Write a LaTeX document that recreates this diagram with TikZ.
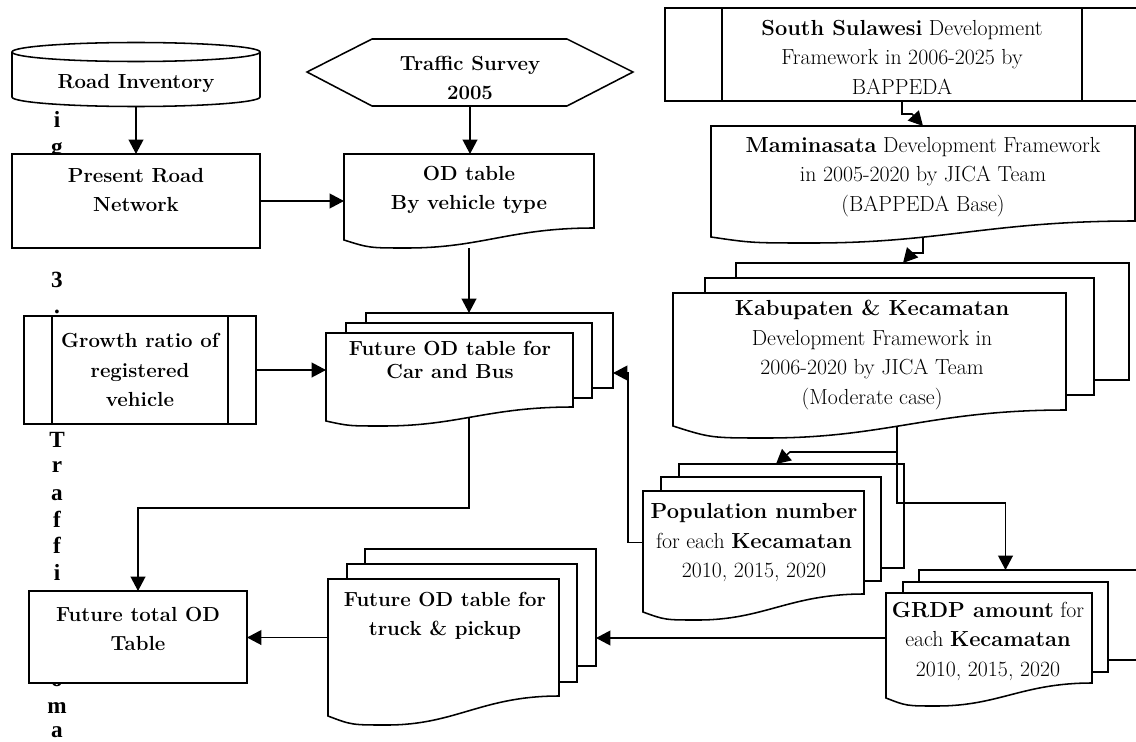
\documentclass[tikz,border=0pt]{standalone}
\usepackage{fontspec}
\newfontfamily\capfont{Liberation Serif}
\usetikzlibrary{arrows.meta}
\newcommand{\pxw}{0.025cm}
\pgfdeclarelayer{back}
\pgfsetlayers{back,main}
\tikzset{
  shp/.style={draw, fill=white, line width=1.1pt},
  boxsize/.style 2 args={minimum width=#1*\pxw, minimum height=#2*\pxw, inner sep=0pt, outer sep=0pt},
  lbl/.style={align=center, font=\fontsize{14.5}{21}\selectfont\bfseries},
  txt/.style={align=center, font=\fontsize{15.5}{21}\selectfont},
  arr/.style={line width=1.1pt, -{Triangle[length=0.36cm, width=0.37cm]}},
  vlet/.style={anchor=base, inner sep=0pt, font=\capfont\bfseries\fontsize{16.5}{18}\selectfont}
}
% document sheet: x1, top, x2, right bottom, left bottom, dip x, dip y
\newcommand{\docshape}[7]{%
  \draw[shp] (#1,#2) -- (#3,#2) -- (#3,#4)
    .. controls ({#3-0.45*(#3-#6)},#4) and ({#6+0.4*(#3-#6)},#7) .. (#6,#7)
    .. controls ({#6-0.6*(#6-#1)},#7) .. (#1,#5) -- cycle;}
\begin{document}
\begin{tikzpicture}[x=0.025cm, y=-0.025cm]
\useasboundingbox (0,0) rectangle (1136,742);

% left column
\node[boxsize={248}{63}] (inv) at (136,74.5) {};
\draw[shp] (12,52) -- (12,97) arc[start angle=180, end angle=360, x radius=124*\pxw, y radius=9.5*\pxw]
  -- (260,52) arc[start angle=0, end angle=180, x radius=124*\pxw, y radius=9.5*\pxw] -- cycle;
\draw[line width=1.1pt] (12,52) arc[start angle=180, end angle=360, x radius=124*\pxw, y radius=9.5*\pxw];
\node[lbl] at (136,83) {Road Inventory};

\node[shp, boxsize={248}{94}] (pnet) at (136,201) {};
\node[lbl] at (136,190) {Present Road\\Network};

\node[shp, boxsize={232}{108}] (growth) at (140,370) {};
\draw[line width=1.1pt] (52,316) -- (52,424) (228,316) -- (228,424);
\node[lbl] at (140,370) {Growth ratio of\\registered\\vehicle};

\node[shp, boxsize={218}{92}] (ftot) at (138,637) {};
\node[lbl] at (138,629) {Future total OD\\Table};

% middle column
\node[boxsize={326}{67}] (survey) at (470,72.5) {};
\draw[shp] (307,72) -- (372,39) -- (567,39) -- (633,72) -- (567,106) -- (372,106) -- cycle;
\node[lbl] at (470,78) {Traffic Survey\\2005};

\node[boxsize={250}{94}] (odt) at (469,201) {};
\docshape{344}{154}{594}{228}{240}{407}{248}
\node[lbl] at (469,190) {OD table\\By vehicle type};

\node[shp, boxsize={247}{75}] (fcb3) at (489.5,350.5) {};
\node[shp, boxsize={246}{75}] (fcb2) at (469,360.5) {};
\node[boxsize={247}{74}] (fcb) at (449.5,370) {};
\docshape{326}{333}{573}{407}{421}{383}{426}
\node[lbl, font=\fontsize{14.5}{16.5}\selectfont\bfseries] at (450,360) {Future OD table for\\Car and Bus};

\node[shp, boxsize={231}{117}] (ftr3) at (480.5,607.5) {};
\node[shp, boxsize={230}{118}] (ftr2) at (462,623) {};
\node[boxsize={231}{117}] (ftr) at (443.5,637.5) {};
\docshape{328}{579}{559}{696}{716}{387}{725}
\node[lbl] at (445,616) {Future OD table for\\truck \& pickup};

% right column
\node[shp, boxsize={474}{93}] (ss) at (902,54.5) {};
\draw[line width=1.1pt] (722,8) -- (722,101) (1082,8) -- (1082,101);
\node[txt] at (902,57) {\textbf{South Sulawesi} Development\\Framework in 2006-2025 by\\BAPPEDA};

\node[boxsize={424}{111}] (mam) at (923,181.5) {};
\docshape{711}{126}{1135}{221}{237}{813}{243}
\node[txt] at (923,177) {\textbf{Maminasata} Development Framework\\in 2005-2020 by JICA Team\\(BAPPEDA Base)};

\node[shp, boxsize={393}{117}] (kab3) at (932.5,321.5) {};
\node[shp, boxsize={389}{117}] (kab2) at (899.5,336.5) {};
\node[boxsize={393}{117}] (kab) at (869.5,351.5) {};
\docshape{673}{293}{1066}{410}{426}{767}{438}
\node[txt] at (872,355) {\textbf{Kabupaten \& Kecamatan}\\Development Framework in\\2006-2020 by JICA Team\\(Moderate case)};

\node[shp, boxsize={225}{104}] (pop3) at (791.5,516) {};
\node[shp, boxsize={220}{104}] (pop2) at (771,529) {};
\node[boxsize={221}{103}] (pop) at (753.5,542.5) {};
\docshape{643}{491}{864}{594}{612}{698}{620}
\node[txt] at (754,543) {\textbf{Population number}\\for each \textbf{Kecamatan}\\2010, 2015, 2020};

\node[shp, boxsize={226}{90}] (grdp3) at (1032,615) {};
\node[shp, boxsize={205}{90}] (grdp2) at (1005.5,627) {};
\node[boxsize={206}{90}] (grdp) at (989,638) {};
\docshape{886}{593}{1092}{683}{698}{937}{706}
\node[txt] at (988,641) {\textbf{GRDP amount} for\\each \textbf{Kecamatan}\\2010, 2015, 2020};

% caption letters and connectors behind the boxes
\begin{pgfonlayer}{back}
\foreach \ch/\yy in {i/128,g/154,3/287,./313,T/447,r/472,a/500,f/527,f/553,i/580,o/686,m/713,a/737}
  \node[vlet] at (57,\yy) {\ch};
\draw[arr] (inv) -- (inv |- pnet.north);
\draw[arr] (pnet) -- (pnet -| odt.west);
\draw[arr] (survey) -- (survey |- odt.north);
\draw[arr] (odt) -- (odt |- fcb3.north);
\draw[arr] (growth) -- (growth -| fcb.west);
\draw[arr] (odt |- fcb) -- (odt |- 0,508) -| (ftot.north);
\draw[arr] (pop) -- (pop -| 628,0) |- (fcb3.east |- 0,373);
\draw[arr] (ftr) -- (ftr -| ftot.east);
\draw[arr] (grdp) -- (grdp -| ftr3.east);
\draw[arr] (ss) -- (ss |- 0,114) -- ++(10,0) -- (mam.north);
\draw[arr] (mam) -- (mam |- 0,253) -- ++(-11,0) -- (kab3.north -| 903,0);
\end{pgfonlayer}

\coordinate (kabout) at (897,427);
\draw[arr] (kabout) |- (grdp2 |- 0,503) -- (grdp2 |- grdp3.north);
\draw[arr] (kabout |- 0,452) -- (790,452) -- (pop3.north -| 776,0);
\end{tikzpicture}
\end{document}
